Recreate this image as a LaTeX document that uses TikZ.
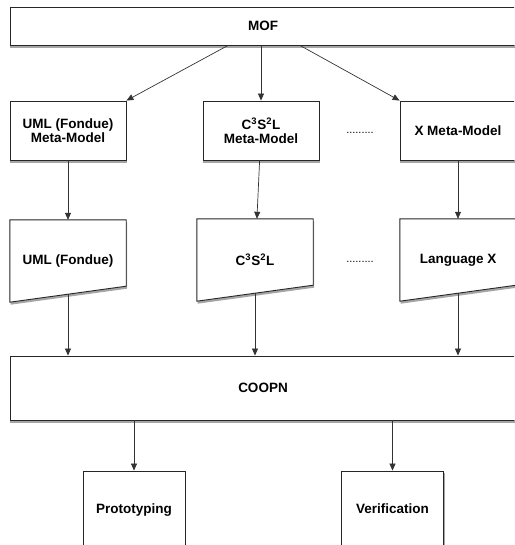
\documentclass[tikz,border=0pt]{standalone}
\usepackage{fontspec}
\setmainfont{Liberation Sans}
\usetikzlibrary{arrows.meta,positioning,shadows}
\pgfdeclarelayer{back}
\pgfsetlayers{back,main}

\begin{document}
\begin{tikzpicture}[
  x=1pt, y=1pt,
  font=\fontsize{13.5}{14}\selectfont\bfseries,
  shade/.style={drop shadow={shadow xshift=0.8pt, shadow yshift=-2.5pt, opacity=0.5, fill=black!70}},
  box/.style={rectangle, draw=black!85, line width=0.9pt, fill=white, align=center, inner sep=0pt},
  meta/.style={box, minimum width=116pt, minimum height=59pt},
  lang/.style={rectangle, align=center, inner sep=0pt, minimum width=116pt, minimum height=82pt},
  langshape/.style={draw=black!85, line width=0.9pt, fill=white, shade},
  dots/.style={font=\fontsize{11}{11}\selectfont\mdseries},
  arrow/.style={-{Triangle[length=7pt, width=6pt]}, line width=0.7pt, draw=black!80}
]
\clip (0,0) rectangle (514,-545);

\node[box, minimum width=506pt, minimum height=38pt] (mof) at (263,-26) {MOF};

\node[meta] (umeta) at (68,-130.5) {UML (Fondue)\\Meta-Model};
\node[meta] (cmeta) at (261,-130.5) {C\textsuperscript{3}S\textsuperscript{2}L\\Meta-Model};
\node[meta] (xmeta) at (458,-130.5) {X Meta-Model};
\node[dots] (mdots) at (360,-133) {.........};

\node[lang] (ulang) at (68,-261) {UML (Fondue)};
\node[lang] (clang) at (255,-260) {C\textsuperscript{3}S\textsuperscript{2}L};
\node[lang] (xlang) at (458,-260) {Language X};
\node[dots] (ldots) at (360,-262) {.........};

\node[box, minimum width=506pt, minimum height=64pt] (coopn) at (263,-388) {COOPN};

\node[box, minimum width=102pt, minimum height=80pt] (proto) at (134,-511) {\raisebox{4pt}{Prototyping}};
\node[box, minimum width=102pt, minimum height=80pt] (verif) at (392.5,-511) {\raisebox{4pt}{Verification}};

% shadows and slanted language sheets
\begin{pgfonlayer}{back}
\foreach \n in {mof,umeta,cmeta,xmeta,coopn,proto,verif}
  \path[shade, fill=white] (\n.south west) rectangle (\n.north east);
\foreach \n in {ulang,clang,xlang}
  \draw[langshape] (\n.north west) -- (\n.north east) -- ([yshift=16pt]\n.south east) -- (\n.south west) -- cycle;
\end{pgfonlayer}

\coordinate (m1) at ([xshift=-35pt]mof.south);
\coordinate (m3) at ([xshift=37pt]mof.south);

\draw[arrow] (m1) -- (umeta.north east);
\draw[arrow] (cmeta.north |- mof.south) -- (cmeta.north);
\draw[arrow] (m3) -- (xmeta.north west);

\draw[arrow] (umeta) -- (ulang);
\draw[arrow] (cmeta) -- (clang);
\draw[arrow] (xmeta) -- (xlang);

\draw[arrow] ([yshift=8pt]ulang.south) -- (ulang.south |- coopn.north);
\draw[arrow] ([yshift=8pt]clang.south) -- (clang.south |- coopn.north);
\draw[arrow] ([yshift=8pt]xlang.south) -- (xlang.south |- coopn.north);

\draw[arrow] (proto.north |- coopn.south) -- (proto.north);
\draw[arrow] (verif.north |- coopn.south) -- (verif.north);
\end{tikzpicture}
\end{document}
